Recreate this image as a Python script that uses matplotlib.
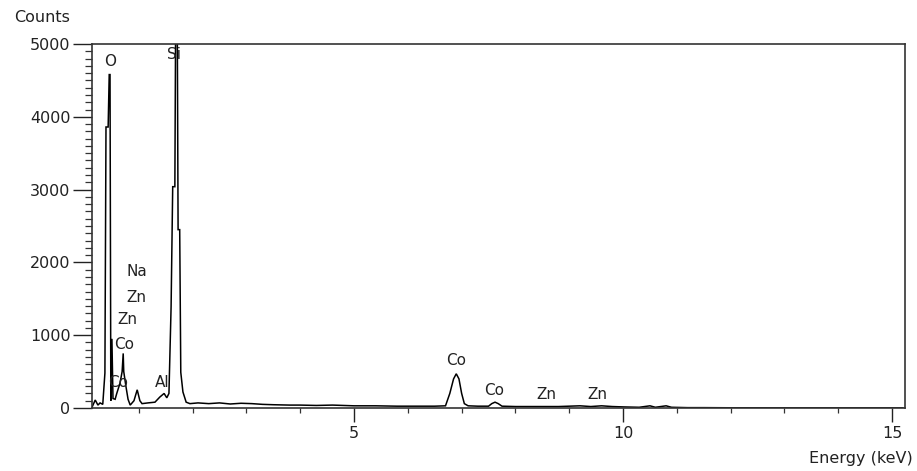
import matplotlib
matplotlib.use("Agg")
import matplotlib.pyplot as plt
from matplotlib.ticker import MultipleLocator

# ---- data ----
energy_kev = [0.13, 0.19, 0.24, 0.28, 0.33, 0.37, 0.39, 0.43, 0.45, 0.465, 0.48, 0.50, 0.52,
              0.56, 0.59, 0.65, 0.69, 0.71, 0.72, 0.76, 0.80, 0.84, 0.91, 0.97, 1.02, 1.06,
              1.17, 1.30, 1.39, 1.47, 1.52, 1.56, 1.60, 1.63, 1.67, 1.69, 1.71, 1.73, 1.76,
              1.78, 1.82, 1.88, 1.95, 2.1, 2.3, 2.5, 2.7, 2.9, 3.1, 3.3, 3.5, 3.8, 4.0, 4.3,
              4.6, 5.0, 5.4, 5.8, 6.2, 6.5, 6.70, 6.78, 6.85, 6.90, 6.95, 7.00, 7.05, 7.12,
              7.3, 7.5, 7.56, 7.62, 7.68, 7.75, 8.0, 8.4, 8.8, 9.0, 9.2, 9.4, 9.6, 9.8, 10.0,
              10.3, 10.5, 10.6, 10.8, 10.9, 11.2, 11.5, 12.0, 13.0, 14.0, 15.2]
counts = [10, 110, 40, 70, 50, 480, 3860, 3860, 4580, 4580, 100, 950, 130,
          120, 200, 340, 500, 750, 500, 300, 120, 40, 100, 250, 100, 60,
          70, 80, 150, 200, 140, 200, 1390, 3040, 3040, 6200, 6200, 2450, 2450,
          490, 220, 80, 60, 70, 60, 70, 55, 65, 60, 50, 45, 40, 40, 35,
          40, 30, 30, 25, 25, 25, 30, 200, 400, 470, 400, 200, 60, 30,
          25, 25, 60, 80, 60, 25, 20, 20, 20, 25, 30, 20, 30, 20, 15,
          10, 30, 10, 30, 10, 5, 5, 3, 2, 2, 2]

label_text = ["O", "Si", "Na", "Zn", "Zn", "Co", "Co", "Al", "Co", "Co", "Zn", "Zn"]
label_energy = [0.465, 1.66, 0.96, 0.96, 0.79, 0.72, 0.61, 1.43, 6.90, 7.60, 8.57, 9.52]
label_counts = [4753, 4849, 1870, 1520, 1220, 870, 345, 345, 659, 247, 179, 179]

x_major = [5, 10, 15]

# ---- figure ----
plt.rcParams['font.family'] = ['DejaVu Sans']
fig = plt.figure(figsize=(9.17, 4.71), dpi=100)
ax = fig.add_axes([92/917, 1-408/471, (905-92)/917, (408-44)/471])

ax.plot(energy_kev, counts, color='black', lw=1.1, solid_joinstyle='miter')

ax.set_xlim(0.13, 15.24)
ax.set_ylim(0, 5000)

ax.set_xticks(x_major)
ax.xaxis.set_minor_locator(MultipleLocator(1))
ax.yaxis.set_major_locator(MultipleLocator(1000))
ax.yaxis.set_minor_locator(MultipleLocator(100))

ax.tick_params(axis='y', which='major', direction='out', length=14, width=1.0,
               labelsize=11.5, pad=1.5, colors='#222222')
ax.tick_params(axis='y', which='minor', direction='out', length=5, width=0.9,
               colors='#333333')
ax.tick_params(axis='x', which='major', direction='out', length=10, width=1.0,
               labelsize=11.5, pad=3, colors='#222222')
ax.tick_params(axis='x', which='minor', direction='out', length=3.5, width=0.9,
               colors='#333333')

for s in ax.spines.values():
    s.set_linewidth(1.2)
    s.set_color('#333333')

for t, e, c in zip(label_text, label_energy, label_counts):
    ax.text(e, c, t, ha='center', va='center', fontsize=11, color='#222222')

fig.text(14/917, 1-17/471, "Counts", ha='left', va='center', fontsize=11.5, color='#222222')
fig.text(913/917, 1-458/471, "Energy (keV)", ha='right', va='center', fontsize=11.5,
         color='#222222')

fig.savefig("out.png", dpi=100)
